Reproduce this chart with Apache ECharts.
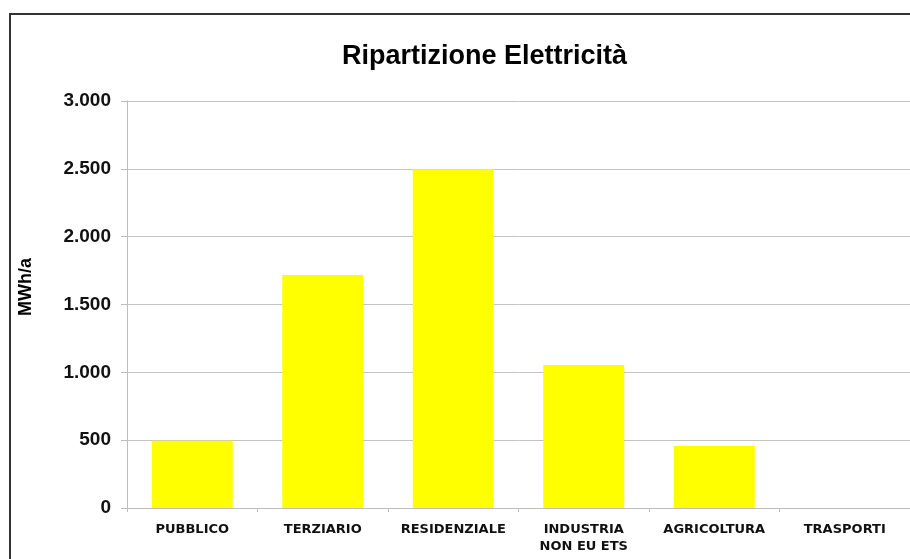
<!DOCTYPE html>
<html>
<head>
<meta charset="utf-8">
<script src="https://cdn.jsdelivr.net/npm/echarts@6/dist/echarts.min.js"></script>
<style>
  html, body { margin: 0; padding: 0; background: #fff; }
  #main { width: 910px; height: 559px; }
</style>
</head>
<body>
<div id="main"></div>
<script>
// categories and values (MWh/a)
const categories = ['PUBBLICO', 'TERZIARIO', 'RESIDENZIALE', 'INDUSTRIA\nNON EU ETS', 'AGRICOLTURA', 'TRASPORTI']
const values = [495, 1717, 2497, 1054, 457, 0]
const yTicks = [0, 500, 1000, 1500, 2000, 2500, 3000]

const chartDom = document.getElementById('main')
const myChart = echarts.init(chartDom, null, { renderer: 'canvas' })

// 1.500 style labels
const fmt = (v) => String(v).replace(/\B(?=(\d{3})+(?!\d))/g, '.')

const option = {
    animation: false,
    backgroundColor: '#fff',
    title: {
        text: 'Ripartizione Elettricità',
        left: 337,
        top: 38,
        textStyle: {
            fontFamily: 'Liberation Sans, Arial, sans-serif',
            fontWeight: 'bold',
            fontSize: 27,
            color: '#000'
        }
    },
    graphic: [
        {
            type: 'rect',
            shape: { x: 10, y: 14, width: 960, height: 600 },
            style: { fill: 'none', stroke: '#333', lineWidth: 2 },
            silent: true
        },
        {
            // y axis name
            type: 'text',
            x: 26,
            y: 287,
            rotation: Math.PI / 2,
            style: {
                text: 'MWh/a',
                align: 'center',
                verticalAlign: 'middle',
                fontFamily: 'Liberation Sans, Arial, sans-serif',
                fontWeight: 'bold',
                fontSize: 18,
                fill: '#000'
            },
            silent: true
        }
    ],
    grid: {
        left: 127,
        top: 101,
        width: 784,
        height: 407
    },
    xAxis: {
        type: 'category',
        data: categories,
        axisLine: { lineStyle: { color: '#bdbdbd', width: 1 } },
        axisTick: { show: true, interval: 0, length: 4, lineStyle: { color: '#bdbdbd' } },
        axisLabel: {
            interval: 0,
            margin: 13,
            fontFamily: 'DejaVu Sans, sans-serif',
            fontWeight: 'bold',
            fontSize: 13,
            lineHeight: 17,
            color: '#111'
        }
    },
    yAxis: {
        type: 'value',
        min: yTicks[0],
        max: yTicks[yTicks.length - 1],
        interval: 500,
        axisLine: { show: true, lineStyle: { color: '#bdbdbd' } },
        axisTick: { show: true, length: 6, lineStyle: { color: '#bdbdbd' } },
        splitLine: { show: true, lineStyle: { color: '#c4c4c4', width: 1 } },
        axisLabel: {
            margin: 16,
            formatter: fmt,
            fontFamily: 'Liberation Sans, Arial, sans-serif',
            fontWeight: 'bold',
            fontSize: 19,
            color: '#111'
        }
    },
    series: [
        {
            type: 'bar',
            data: values,
            barWidth: '62%',
            itemStyle: { color: '#ffff00' }
        }
    ]
}

option && myChart.setOption(option)
</script>
</body>
</html>
